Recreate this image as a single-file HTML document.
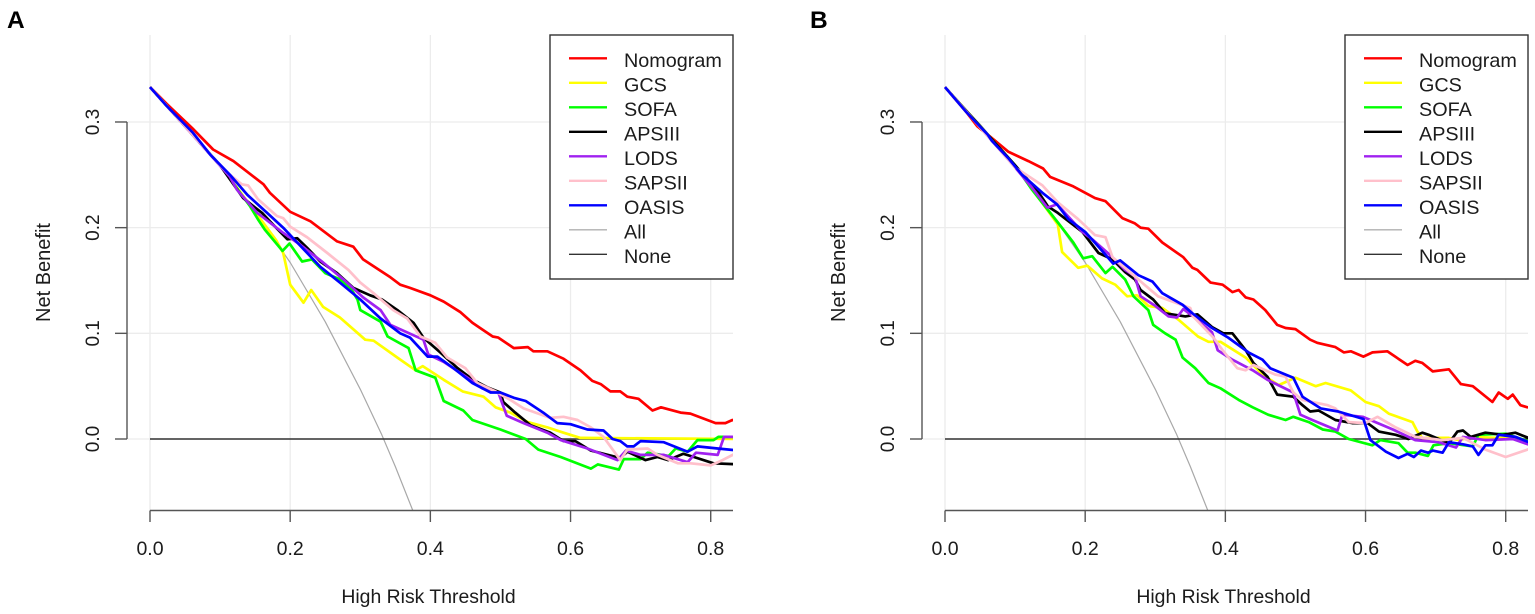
<!DOCTYPE html>
<html lang="en">
<head>
<meta charset="utf-8">
<title>Decision curves A and B</title>
<style>
html,body{margin:0;padding:0;background:#fff;width:1535px;height:614px;overflow:hidden}
svg{display:block}
text{font-family:"Liberation Sans",sans-serif;fill:#1a1a1a}
</style>
</head>
<body>
<svg id="figure" width="1535" height="614" viewBox="0 0 1535 614" xmlns="http://www.w3.org/2000/svg"></svg>
<script>
// Shared axis data
const xTicks = [0, 0.2, 0.4, 0.6, 0.8];
const xTickLabels = ["0.0", "0.2", "0.4", "0.6", "0.8"];
const yTicks = [0, 0.1, 0.2, 0.3];
const yTickLabels = ["0.0", "0.1", "0.2", "0.3"];
const seriesNames = ["Nomogram", "GCS", "SOFA", "APSIII", "LODS", "SAPSII", "OASIS"];
const legendNames = ["Nomogram", "GCS", "SOFA", "APSIII", "LODS", "SAPSII", "OASIS", "All", "None"];
const xTitle = "High Risk Threshold";
const yTitle = "Net Benefit";
const allT = [0, 0.05, 0.1, 0.15, 0.2, 0.25, 0.3, 0.33, 0.35, 0.38];
const allV = [0.333, 0.298, 0.259, 0.215, 0.167, 0.111, 0.047, 0.005, -0.026, -0.076];
const noneT = [0, 0.84];
const noneV = [0, 0];

// Panel A
const aNomogramT = [0,0.024,0.062,0.09,0.119,0.162,0.171,0.2,0.229,0.267,0.29,0.304,0.343,0.357,0.371,0.4,0.419,0.443,0.46,0.471,0.489,0.497,0.519,0.539,0.547,0.567,0.59,0.614,0.631,0.643,0.657,0.671,0.681,0.697,0.717,0.729,0.757,0.771,0.807,0.821,0.831,0.84];
const aNomogramV = [0.333,0.317,0.293,0.274,0.263,0.241,0.233,0.215,0.206,0.187,0.182,0.17,0.153,0.146,0.143,0.136,0.13,0.12,0.11,0.105,0.097,0.096,0.086,0.087,0.083,0.083,0.076,0.065,0.055,0.052,0.045,0.045,0.04,0.038,0.027,0.03,0.025,0.024,0.015,0.015,0.018,0.016];
const aGcsT = [0,0.1,0.15,0.18,0.19,0.2,0.219,0.23,0.247,0.271,0.307,0.319,0.353,0.379,0.389,0.419,0.446,0.476,0.493,0.514,0.539,0.567,0.59,0.614,0.84];
const aGcsV = [0.333,0.259,0.215,0.188,0.176,0.146,0.129,0.141,0.125,0.115,0.094,0.093,0.077,0.065,0.069,0.056,0.045,0.04,0.03,0.025,0.016,0.011,0.006,0.001,0];
const aSofaT = [0,0.1,0.143,0.154,0.164,0.189,0.199,0.217,0.231,0.25,0.271,0.286,0.296,0.3,0.329,0.339,0.369,0.379,0.407,0.419,0.447,0.46,0.5,0.536,0.554,0.586,0.629,0.639,0.669,0.676,0.7,0.71,0.74,0.75,0.767,0.781,0.804,0.811,0.84];
const aSofaV = [0.333,0.259,0.22,0.208,0.198,0.178,0.185,0.168,0.17,0.157,0.151,0.143,0.132,0.122,0.111,0.097,0.086,0.065,0.058,0.036,0.027,0.018,0.009,0,-0.01,-0.017,-0.028,-0.024,-0.029,-0.019,-0.019,-0.013,-0.016,-0.009,-0.012,-0.001,-0.001,0.002,0.002];
const aApsT = [0,0.1,0.133,0.15,0.16,0.171,0.196,0.21,0.224,0.243,0.267,0.29,0.314,0.331,0.353,0.376,0.39,0.414,0.439,0.461,0.481,0.5,0.504,0.521,0.543,0.571,0.59,0.607,0.629,0.671,0.681,0.707,0.724,0.739,0.761,0.776,0.804,0.84];
const aApsV = [0.333,0.259,0.228,0.219,0.214,0.206,0.189,0.19,0.181,0.168,0.157,0.143,0.136,0.132,0.122,0.11,0.096,0.082,0.067,0.056,0.049,0.044,0.035,0.025,0.013,0.006,-0.002,-0.002,-0.011,-0.018,-0.012,-0.02,-0.017,-0.02,-0.014,-0.017,-0.023,-0.024];
const aLodsT = [0,0.086,0.114,0.124,0.153,0.161,0.19,0.214,0.247,0.276,0.304,0.329,0.343,0.39,0.397,0.419,0.453,0.474,0.497,0.509,0.533,0.567,0.586,0.624,0.667,0.679,0.7,0.733,0.767,0.779,0.81,0.819,0.84];
const aLodsV = [0.333,0.269,0.248,0.236,0.214,0.21,0.195,0.184,0.167,0.151,0.134,0.122,0.108,0.094,0.08,0.073,0.058,0.048,0.044,0.022,0.015,0.006,-0.001,-0.009,-0.02,-0.011,-0.015,-0.015,-0.022,-0.013,-0.015,0.002,0.002];
const aSapsT = [0,0.1,0.114,0.131,0.14,0.154,0.181,0.19,0.2,0.224,0.253,0.283,0.3,0.319,0.347,0.367,0.386,0.407,0.424,0.45,0.467,0.493,0.514,0.533,0.571,0.59,0.61,0.629,0.647,0.671,0.681,0.71,0.724,0.753,0.771,0.8,0.817,0.84];
const aSapsV = [0.333,0.259,0.25,0.241,0.24,0.227,0.211,0.209,0.201,0.191,0.176,0.16,0.148,0.138,0.122,0.114,0.097,0.091,0.077,0.067,0.053,0.045,0.037,0.029,0.02,0.021,0.018,0.011,0.002,-0.02,-0.01,-0.009,-0.015,-0.023,-0.023,-0.025,-0.02,-0.012];
const aOasisT = [0,0.024,0.061,0.086,0.114,0.139,0.167,0.19,0.21,0.243,0.271,0.3,0.329,0.357,0.371,0.396,0.41,0.433,0.46,0.486,0.5,0.519,0.536,0.561,0.581,0.6,0.624,0.647,0.66,0.671,0.681,0.69,0.7,0.733,0.767,0.781,0.81,0.84];
const aOasisV = [0.333,0.315,0.29,0.269,0.25,0.231,0.214,0.2,0.186,0.163,0.148,0.132,0.114,0.1,0.096,0.078,0.078,0.067,0.053,0.044,0.044,0.039,0.036,0.025,0.015,0.014,0.009,0.008,0,-0.002,-0.007,-0.007,-0.002,-0.003,-0.012,-0.007,-0.009,-0.011];

// Panel B
const bNomogramT = [0,0.031,0.046,0.061,0.09,0.119,0.14,0.15,0.183,0.214,0.229,0.253,0.271,0.279,0.29,0.31,0.34,0.353,0.36,0.379,0.396,0.41,0.419,0.429,0.44,0.457,0.474,0.486,0.5,0.521,0.531,0.557,0.569,0.579,0.597,0.61,0.631,0.66,0.671,0.681,0.696,0.719,0.736,0.753,0.781,0.79,0.803,0.81,0.821,0.831,0.84];
const bNomogramV = [0.333,0.309,0.296,0.288,0.272,0.263,0.256,0.248,0.239,0.228,0.225,0.209,0.204,0.2,0.199,0.186,0.172,0.162,0.16,0.148,0.146,0.139,0.141,0.134,0.132,0.122,0.108,0.105,0.104,0.094,0.091,0.087,0.082,0.083,0.078,0.082,0.083,0.07,0.074,0.072,0.064,0.066,0.052,0.05,0.035,0.044,0.038,0.042,0.032,0.03,0.03];
const bGcsT = [0,0.1,0.161,0.167,0.19,0.203,0.224,0.243,0.26,0.274,0.29,0.31,0.333,0.361,0.376,0.393,0.429,0.453,0.476,0.5,0.529,0.543,0.579,0.6,0.619,0.633,0.667,0.674,0.681,0.719,0.733,0.753,0.786,0.814,0.84];
const bGcsV = [0.333,0.259,0.203,0.177,0.162,0.164,0.152,0.146,0.135,0.136,0.126,0.124,0.113,0.097,0.092,0.092,0.077,0.061,0.051,0.058,0.05,0.053,0.046,0.035,0.031,0.024,0.016,0.007,0.001,0.001,-0.001,0.002,0.001,0.002,-0.005];
const bSofaT = [0,0.1,0.124,0.143,0.161,0.183,0.197,0.21,0.229,0.239,0.257,0.269,0.29,0.297,0.314,0.329,0.339,0.357,0.376,0.393,0.419,0.439,0.461,0.486,0.497,0.519,0.539,0.557,0.576,0.61,0.621,0.647,0.66,0.671,0.689,0.697,0.719,0.753,0.761,0.8,0.84];
const bSofaV = [0.333,0.259,0.236,0.22,0.205,0.186,0.171,0.173,0.157,0.163,0.151,0.135,0.122,0.108,0.1,0.094,0.077,0.067,0.053,0.048,0.037,0.03,0.023,0.018,0.021,0.016,0.009,0.007,0,-0.006,-0.001,-0.004,-0.013,-0.013,-0.016,-0.006,-0.004,-0.007,0.004,0.005,-0.004];
const bApsT = [0,0.1,0.133,0.147,0.161,0.196,0.219,0.239,0.257,0.271,0.279,0.297,0.314,0.343,0.36,0.381,0.397,0.41,0.429,0.44,0.46,0.474,0.497,0.51,0.521,0.533,0.557,0.581,0.603,0.619,0.643,0.661,0.681,0.69,0.719,0.731,0.739,0.75,0.771,0.796,0.814,0.84];
const bApsV = [0.333,0.259,0.234,0.22,0.214,0.196,0.176,0.17,0.158,0.151,0.141,0.132,0.119,0.116,0.118,0.106,0.1,0.1,0.084,0.072,0.059,0.042,0.04,0.032,0.026,0.027,0.018,0.015,0.015,0.007,0.004,0,0.006,0.004,-0.004,0.007,0.008,0.002,0.006,0.004,0.006,-0.001];
const bLodsT = [0,0.1,0.124,0.146,0.16,0.196,0.21,0.239,0.257,0.271,0.279,0.3,0.319,0.331,0.34,0.354,0.381,0.389,0.41,0.439,0.46,0.497,0.507,0.524,0.56,0.567,0.596,0.614,0.639,0.671,0.704,0.729,0.739,0.771,0.81,0.84];
const bLodsV = [0.333,0.257,0.238,0.219,0.222,0.196,0.189,0.172,0.16,0.154,0.135,0.126,0.116,0.115,0.123,0.116,0.101,0.084,0.075,0.065,0.056,0.044,0.023,0.018,0.008,0.023,0.021,0.016,0.009,-0.001,-0.003,-0.008,0.002,-0.001,0,-0.007];
const bSapsT = [0,0.1,0.139,0.161,0.19,0.214,0.229,0.239,0.281,0.304,0.329,0.35,0.354,0.383,0.396,0.417,0.429,0.44,0.471,0.486,0.497,0.51,0.546,0.557,0.576,0.6,0.617,0.643,0.671,0.71,0.739,0.771,0.8,0.84];
const bSapsV = [0.333,0.257,0.24,0.224,0.208,0.193,0.191,0.172,0.148,0.135,0.129,0.124,0.116,0.096,0.084,0.067,0.065,0.07,0.061,0.059,0.044,0.037,0.032,0.029,0.016,0.015,0.021,0.011,0.002,-0.001,0.001,-0.01,-0.017,-0.008];
const bOasisT = [0,0.031,0.061,0.067,0.09,0.11,0.139,0.16,0.176,0.2,0.219,0.24,0.25,0.276,0.296,0.31,0.339,0.353,0.381,0.404,0.433,0.453,0.464,0.497,0.51,0.536,0.561,0.597,0.607,0.629,0.647,0.66,0.669,0.679,0.689,0.696,0.71,0.719,0.739,0.753,0.761,0.771,0.781,0.79,0.814,0.84];
const bOasisV = [0.333,0.309,0.288,0.282,0.266,0.25,0.233,0.222,0.208,0.196,0.182,0.166,0.169,0.155,0.149,0.138,0.127,0.119,0.105,0.096,0.082,0.075,0.067,0.058,0.04,0.029,0.026,0.019,-0.001,-0.012,-0.018,-0.014,-0.017,-0.011,-0.013,-0.011,-0.013,-0.003,-0.005,-0.007,-0.015,-0.006,-0.006,0.004,0.002,-0.005];

const seriesColors = ["#ff0000", "#ffff00", "#00ff00", "#000000", "#a020f0", "#ffc0cb", "#0000ff"];
const legendColors = ["#ff0000", "#ffff00", "#00ff00", "#000000", "#a020f0", "#ffc0cb", "#0000ff", "#b0b0b0", "#333333"];
const panels = [
  { key: "a", letter: "A", dx: 0, t: [aNomogramT, aGcsT, aSofaT, aApsT, aLodsT, aSapsT, aOasisT], v: [aNomogramV, aGcsV, aSofaV, aApsV, aLodsV, aSapsV, aOasisV] },
  { key: "b", letter: "B", dx: 795, t: [bNomogramT, bGcsT, bSofaT, bApsT, bLodsT, bSapsT, bOasisT], v: [bNomogramV, bGcsV, bSofaV, bApsV, bLodsV, bSapsV, bOasisV] }
];

const NS = "http://www.w3.org/2000/svg";
const root = document.getElementById("figure");
function xScale(t, dx) { return 150 + dx + 700.9 * t; }
function yScale(v) { return 439 - 1056.7 * v; }
function make(tag, parent, attrs, txt) {
  const el = document.createElementNS(NS, tag);
  for (const k in attrs) el.setAttribute(k, attrs[k]);
  if (txt !== undefined) el.textContent = txt;
  parent.appendChild(el);
  return el;
}
function linePoints(ts, vs, dx) {
  return ts.map((t, i) => xScale(t, dx).toFixed(1) + "," + yScale(vs[i]).toFixed(1)).join(" ");
}

const defs = make("defs", root, {});
const soft = make("filter", defs, { id: "soft", x: "-5%", y: "-5%", width: "110%", height: "110%" });
make("feGaussianBlur", soft, { stdDeviation: 0.35 });
panels.forEach(p => {
  const cp = make("clipPath", defs, { id: "clip-" + p.key });
  make("rect", cp, { x: 127 + p.dx, y: 35, width: 606, height: 475.5 });
});

panels.forEach(p => {
  const dx = p.dx;
  const g = make("g", root, { filter: "url(#soft)" });
  
  

  const letter = make("text", g, { x: p.key === "a" ? 7 : 810, y: 28, "font-size": 24.5, "font-weight": "bold", style: "fill:#000" }, p.letter);
  
  

  const grid = make("g", g, { stroke: "#ececec", "stroke-width": 1.3 });
  
  
  xTicks.forEach(t => {
    const l = make("line", grid, { x1: xScale(t, dx), x2: xScale(t, dx), y1: 35, y2: 510 });
    
    
  });
  yTicks.forEach(v => {
    const l = make("line", grid, { x1: 127 + dx, x2: 733 + dx, y1: yScale(v), y2: yScale(v) });
    
    
  });

  const marks = make("g", g, { "clip-path": "url(#clip-" + p.key + ")", fill: "none", "stroke-linejoin": "round" });
  
  

  const allLine = make("polyline", marks, { points: linePoints(allT, allV, dx), stroke: "#a8a8a8", "stroke-width": 1.2 });
  
  
  const noneLine = make("polyline", marks, { points: linePoints(noneT, noneV, dx), stroke: "#333333", "stroke-width": 1.4 });
  
  

  seriesNames.forEach((name, i) => {
    const s = make("polyline", marks, { points: linePoints(p.t[i], p.v[i], dx), stroke: seriesColors[i], "stroke-width": 2.7 });
    
    
  });

  const axes = make("g", g, { stroke: "#555555", "stroke-width": 1.4, fill: "none" });
  
  
  const xAxis = make("line", axes, { x1: xScale(0, dx), x2: 733 + dx, y1: 510.5, y2: 510.5 });
  
  
  const yAxis = make("line", axes, { x1: 127 + dx, x2: 127 + dx, y1: yScale(0.3), y2: yScale(0) });
  
  

  xTicks.forEach((t, i) => {
    const tick = make("line", axes, { x1: xScale(t, dx), x2: xScale(t, dx), y1: 510.5, y2: 522 });
    
    
    const label = make("text", g, { x: xScale(t, dx), y: 555, "text-anchor": "middle", "font-size": 19.5 }, xTickLabels[i]);
    
    
  });
  yTicks.forEach((v, i) => {
    const tick = make("line", axes, { x1: 115 + dx, x2: 127 + dx, y1: yScale(v), y2: yScale(v) });
    
    
    const lx = 99 + dx, ly = yScale(v);
    const label = make("text", g, { x: lx, y: ly, "text-anchor": "middle", "font-size": 19, transform: "rotate(-90 " + lx + " " + ly + ")" }, yTickLabels[i]);
    
    
  });

  const xt = make("text", g, { x: 428.5 + dx, y: 603, "text-anchor": "middle", "font-size": 19.4 }, xTitle);
  
  
  const ytx = 50 + dx, yty = 272.5;
  const yt = make("text", g, { x: ytx, y: yty, "text-anchor": "middle", "font-size": 20, transform: "rotate(-90 " + ytx + " " + yty + ")" }, yTitle);
  
  

  const legend = make("g", g, {});
  
  
  const box = make("rect", legend, { x: 550 + dx, y: 35, width: 183, height: 244, fill: "#fff", stroke: "#333333", "stroke-width": 1.4 });
  
  
  legendNames.forEach((name, i) => {
    const ly = 58.3 + i * 24.5;
    const key = make("line", legend, { x1: 569 + dx, x2: 607 + dx, y1: ly, y2: ly, stroke: legendColors[i], "stroke-width": i < 7 ? 2.4 : 1.4 });
    
    
    const label = make("text", legend, { x: 624 + dx, y: ly + 8.5, "font-size": 19.8 }, name);
    
    
  });
});
</script>
</body>
</html>
